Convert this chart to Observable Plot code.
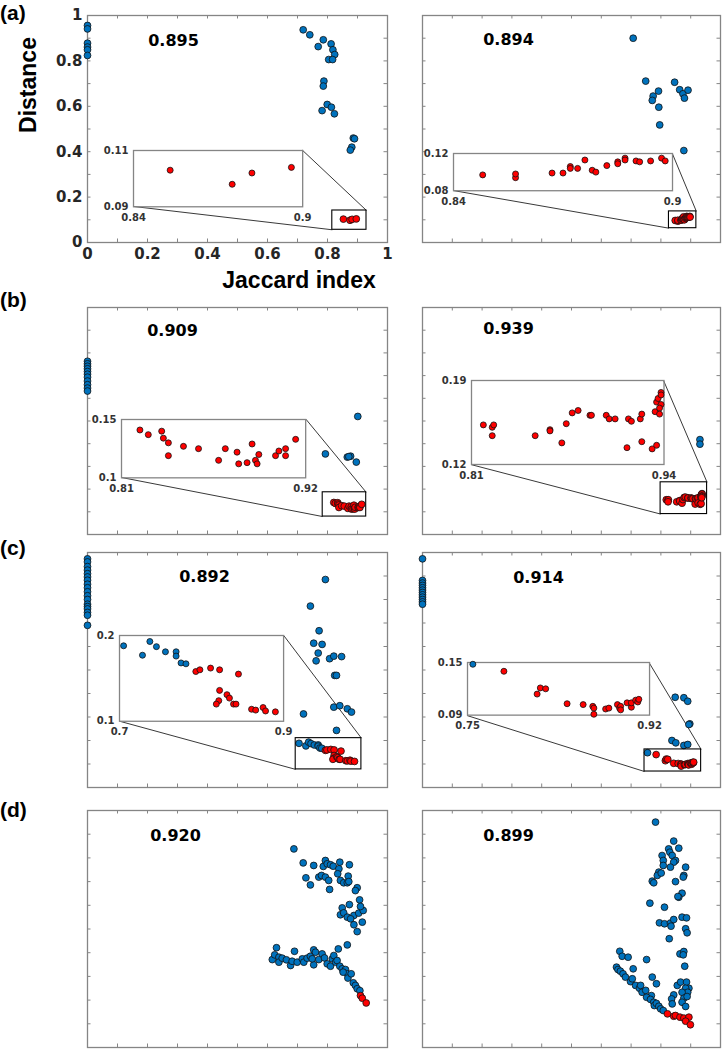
<!DOCTYPE html>
<html><head><meta charset="utf-8">
<script src="https://cdn.jsdelivr.net/npm/d3@7"></script>
<script src="https://cdn.jsdelivr.net/npm/@observablehq/plot@0.6"></script>
<style>
html,body{margin:0;padding:0;background:#fff;}
#fig{position:relative;width:722px;height:1050px;overflow:hidden;background:#fff;}
#fig svg{position:absolute;overflow:visible;}
.lab{position:absolute;font-family:"Liberation Sans",Arial,sans-serif;font-weight:bold;color:#000;white-space:nowrap;line-height:1;}
</style></head><body><div id="fig"></div>
<script>
// ---------------- DATA ----------------
const panelLetters = ["(a)", "(b)", "(c)", "(d)"];
const scores = ["0.895", "0.894", "0.909", "0.939", "0.892", "0.914", "0.920", "0.899"];
const axisTicks = [0, 0.1, 0.2, 0.3, 0.4, 0.5, 0.6, 0.7, 0.8, 0.9, 1];
const axisLabelTicks = [0, 0.2, 0.4, 0.6, 0.8, 1];
const xTitle = "Jaccard index";
const yTitle = "Distance";

// (a) left
const aLeftBlue = [[0,0.956],[0,0.941],[0,0.878],[0,0.861],[0,0.849],[0,0.824],
  [0.719,0.937],[0.741,0.915],[0.786,0.893],[0.769,0.863],[0.812,0.875],[0.818,0.849],[0.824,0.828],
  [0.804,0.806],[0.817,0.806],[0.788,0.711],[0.786,0.689],[0.799,0.608],[0.782,0.581],[0.813,0.596],
  [0.823,0.567],[0.886,0.46],[0.89,0.457],[0.881,0.42],[0.876,0.407]];
const aLeftRed = [[0.853,0.103],[0.875,0.098],[0.882,0.102],[0.896,0.104]];
const aLeftInsetX = [0.84, 0.9], aLeftInsetY = [0.09, 0.11];

// (a) right
const aRightBlue = [[0.707,0.9],[0.749,0.711],[0.792,0.667],[0.774,0.645],[0.771,0.626],[0.793,0.596],
  [0.796,0.518],[0.846,0.706],[0.863,0.673],[0.874,0.655],[0.879,0.636],[0.891,0.671],[0.877,0.405]];
const aRightRed = [[0.848,0.097],[0.857,0.094],[0.857,0.098],[0.867,0.099],[0.870,0.099],[0.872,0.106],
  [0.872,0.104],[0.874,0.104],[0.876,0.113],[0.878,0.102],[0.879,0.100],[0.882,0.107],[0.885,0.111],
  [0.885,0.109],[0.887,0.115],[0.887,0.113],[0.890,0.112],[0.891,0.111],[0.894,0.112],[0.897,0.115],[0.898,0.112]];
const aRightInsetX = [0.84, 0.9], aRightInsetY = [0.08, 0.12];

// (b) left
const bLeftBlue = [[0,0.763],[0,0.752],[0,0.741],[0,0.73],[0,0.718],[0,0.706],[0,0.693],[0,0.676],[0,0.66],
  [0,0.645],[0,0.632],[0.793,0.355],[0.866,0.341],[0.877,0.345],[0.871,0.343],[0.896,0.319],[0.901,0.52]];
const bLeftRed = [[0.821,0.141],[0.826,0.137],[0.834,0.140],[0.835,0.134],[0.838,0.130],[0.838,0.119],
  [0.847,0.127],[0.856,0.125],[0.868,0.115],[0.872,0.125],[0.879,0.122],[0.880,0.112],[0.885,0.113],
  [0.888,0.129],[0.890,0.115],[0.891,0.112],[0.892,0.120],[0.902,0.119],[0.904,0.123],[0.908,0.125],
  [0.908,0.119],[0.914,0.133]];
const bLeftInsetX = [0.81, 0.92], bLeftInsetY = [0.1, 0.15];

// (b) right
const bRightBlue = [[0.931,0.418],[0.931,0.398]];
const bRightRed = [[0.818,0.153],[0.824,0.151],[0.825,0.153],[0.824,0.144],[0.853,0.144],[0.863,0.149],
  [0.863,0.148],[0.871,0.138],[0.874,0.154],[0.878,0.163],[0.882,0.165],[0.890,0.161],[0.891,0.161],
  [0.901,0.161],[0.903,0.158],[0.907,0.158],[0.915,0.134],[0.916,0.158],[0.918,0.156],[0.924,0.158],
  [0.925,0.162],[0.925,0.139],[0.932,0.133],[0.935,0.136],[0.934,0.164],[0.935,0.172],[0.936,0.175],
  [0.938,0.180],[0.938,0.178],[0.938,0.170],[0.937,0.167],[0.937,0.162]];
const bRightInsetX = [0.81, 0.94], bRightInsetY = [0.12, 0.19];

// (c) left
const cLeftBlue = [[0,0.973],[0,0.96],[0,0.94],[0,0.925],[0,0.91],[0,0.896],[0,0.882],[0,0.865],[0,0.85],
  [0,0.833],[0,0.816],[0,0.8],[0,0.78],[0,0.77],[0,0.76],[0,0.745],[0,0.733],[0,0.69],
  [0.793,0.885],[0.743,0.772],[0.772,0.667],[0.754,0.614],[0.782,0.609],[0.769,0.572],[0.762,0.539],
  [0.807,0.548],[0.821,0.559],[0.847,0.557],[0.824,0.477],[0.83,0.477],[0.821,0.342],[0.841,0.348],
  [0.866,0.335],[0.88,0.321],[0.72,0.313],[0.83,0.243],
  [0.705,0.188],[0.728,0.177],[0.737,0.193],[0.745,0.187],[0.756,0.181],[0.769,0.181],[0.769,0.176],
  [0.775,0.168],[0.781,0.167]];
const cLeftRed = [[0.793,0.158],[0.798,0.160],[0.811,0.162],[0.822,0.160],[0.845,0.155],[0.822,0.136],
  [0.821,0.124],[0.818,0.120],[0.831,0.131],[0.834,0.127],[0.839,0.120],[0.842,0.120],[0.861,0.114],
  [0.866,0.113],[0.875,0.116],[0.878,0.112],[0.890,0.111]];
const cLeftInsetX = [0.7, 0.9], cLeftInsetY = [0.1, 0.2];

// (c) right
const cRightBlue = [[0,0.973],[0,0.881],[0,0.87],[0,0.86],[0,0.85],[0,0.84],[0,0.83],[0,0.82],[0,0.81],
  [0,0.8],[0,0.79],[0,0.78],
  [0.848,0.384],[0.877,0.382],[0.89,0.367],[0.897,0.271],[0.894,0.268],[0.837,0.2],[0.85,0.19],
  [0.877,0.179],[0.89,0.183],[0.755,0.148]];
const cRightRed = [[0.784,0.140],[0.815,0.114],[0.818,0.121],[0.823,0.120],[0.843,0.103],[0.858,0.102],
  [0.867,0.100],[0.868,0.098],[0.868,0.091],[0.879,0.097],[0.882,0.098],[0.890,0.102],[0.892,0.098],
  [0.893,0.100],[0.893,0.096],[0.899,0.104],[0.903,0.099],[0.903,0.104],[0.907,0.107],[0.909,0.105],[0.910,0.108]];
const cRightInsetX = [0.75, 0.92], cRightInsetY = [0.09, 0.15];

// (d) left
const dLeftBlue = [[0.688,0.838],[0.719,0.779],[0.754,0.768],[0.728,0.716],[0.743,0.686],[0.771,0.719],
  [0.78,0.726],[0.786,0.764],[0.793,0.789],[0.799,0.775],[0.81,0.771],[0.819,0.765],[0.841,0.782],
  [0.873,0.771],[0.838,0.754],[0.834,0.733],[0.793,0.719],[0.804,0.705],[0.807,0.667],[0.869,0.723],
  [0.843,0.705],[0.854,0.695],[0.866,0.695],[0.871,0.7],[0.899,0.674],[0.893,0.662],[0.907,0.623],
  [0.873,0.603],[0.849,0.589],[0.843,0.56],[0.854,0.568],[0.866,0.55],[0.888,0.557],[0.904,0.567],
  [0.919,0.578],[0.91,0.595],[0.916,0.529],[0.888,0.518],[0.899,0.489],[0.877,0.543],
  [0.63,0.421],[0.616,0.371],[0.624,0.391],[0.638,0.381],[0.638,0.36],[0.649,0.377],[0.663,0.37],
  [0.677,0.346],[0.682,0.364],[0.69,0.406],[0.699,0.36],[0.716,0.374],[0.721,0.36],[0.732,0.377],
  [0.743,0.385],[0.754,0.412],[0.76,0.402],[0.754,0.349],[0.749,0.374],[0.771,0.371],[0.782,0.395],
  [0.79,0.378],[0.799,0.353],[0.81,0.343],[0.816,0.374],[0.821,0.388],[0.836,0.416],[0.866,0.433],
  [0.827,0.36],[0.832,0.367],[0.841,0.343],[0.849,0.332],[0.86,0.329],[0.866,0.311],[0.852,0.318],
  [0.868,0.293],[0.879,0.311],[0.886,0.273],[0.893,0.262],[0.899,0.248],[0.908,0.24]];
const dLeftRed = [[0.91,0.219],[0.916,0.208],[0.929,0.188]];

// (d) right
const dRightBlue = [[0.782,0.951],[0.843,0.871],[0.826,0.838],[0.83,0.824],[0.86,0.841],[0.804,0.81],
  [0.808,0.789],[0.838,0.81],[0.849,0.789],[0.843,0.782],[0.808,0.768],[0.832,0.761],[0.883,0.761],
  [0.793,0.74],[0.788,0.726],[0.801,0.736],[0.877,0.726],[0.875,0.719],[0.771,0.702],[0.776,0.695],
  [0.849,0.7],[0.871,0.651],[0.86,0.634],[0.857,0.637],[0.763,0.609],[0.812,0.592],[0.795,0.526],
  [0.812,0.522],[0.832,0.525],[0.843,0.54],[0.834,0.512],[0.871,0.55],[0.886,0.547],[0.883,0.501],
  [0.888,0.484],[0.828,0.459],[0.864,0.395],[0.877,0.405],[0.875,0.391],[0.88,0.343],
  [0.662,0.406],[0.67,0.385],[0.69,0.381],[0.752,0.371],[0.651,0.339],[0.656,0.329],[0.664,0.322],
  [0.673,0.311],[0.707,0.332],[0.681,0.297],[0.698,0.278],[0.704,0.29],[0.715,0.262],[0.728,0.25],
  [0.732,0.262],[0.737,0.233],[0.749,0.241],[0.771,0.297],[0.785,0.269],[0.768,0.219],[0.752,0.212],
  [0.765,0.203],[0.776,0.191],[0.778,0.177],[0.785,0.186],[0.793,0.174],[0.799,0.163],[0.808,0.156],
  [0.855,0.262],[0.866,0.276],[0.886,0.276],[0.894,0.25],[0.883,0.25],[0.89,0.233],[0.871,0.233],
  [0.843,0.222],[0.836,0.205],[0.838,0.184],[0.877,0.208],[0.871,0.191],[0.883,0.173],[0.888,0.215]];
const dRightRed = [[0.822,0.142],[0.843,0.132],[0.849,0.135],[0.864,0.128],[0.877,0.124],[0.894,0.128],
  [0.883,0.111],[0.899,0.096]];

// ---------------- LAYOUT ----------------
const rowBox = [{top: 15, h: 227}, {top: 307, h: 227}, {top: 552, h: 235}, {top: 810, h: 237}];
const colBox = [{left: 87, w: 300}, {left: 422, w: 298}];
const scorePos = [[86,25],[86,24],[85,23],[86,21],[117,24],[116,25],[88,25],[86,25]];
// inset placement and zoom-box, in the main panel's own axis units
const insetLayout = [
  {box: [0.152, 0.716, 0.159, 0.407], zoom: [0.816, 0.93, 0.056, 0.141]},
  {box: [0.103, 0.838, 0.229, 0.393], zoom: [0.827, 0.919, 0.063, 0.137]},
  {box: [0.114, 0.728, 0.251, 0.508], zoom: [0.784, 0.929, 0.079, 0.186]},
  {box: [0.163, 0.809, 0.308, 0.678], zoom: [0.799, 0.955, 0.09, 0.23]},
  {box: [0.107, 0.654, 0.282, 0.647], zoom: [0.694, 0.913, 0.077, 0.21]},
  {box: [0.15, 0.761, 0.306, 0.53], zoom: [0.745, 0.935, 0.068, 0.162]},
  null, null
];

const panels = [
  {blue: aLeftBlue, red: aLeftRed, ix: aLeftInsetX, iy: aLeftInsetY},
  {blue: aRightBlue, red: aRightRed, ix: aRightInsetX, iy: aRightInsetY},
  {blue: bLeftBlue, red: bLeftRed, ix: bLeftInsetX, iy: bLeftInsetY},
  {blue: bRightBlue, red: bRightRed, ix: bRightInsetX, iy: bRightInsetY},
  {blue: cLeftBlue, red: cLeftRed, ix: cLeftInsetX, iy: cLeftInsetY},
  {blue: cRightBlue, red: cRightRed, ix: cRightInsetX, iy: cRightInsetY},
  {blue: dLeftBlue, red: dLeftRed},
  {blue: dRightBlue, red: dRightRed}
];

const BLUE = "#0072BD", RED = "#FF0000", FRAME = "#858585", TL = 3.5;
const fig = document.getElementById("fig");

function place(el, left, top) {
  el.style.left = left + "px";
  el.style.top = top + "px";
  fig.appendChild(el);
}

panels.forEach((P, i) => {
  const row = rowBox[Math.floor(i / 2)], col = colBox[i % 2];
  const W = col.w, H = row.h;
  const showLabels = i === 0;
  const mL = 44, mR = 10, mT = 10, mB = 34;
  const lay = insetLayout[i];
  const marks = [
    Plot.frame({stroke: FRAME, strokeWidth: 1.3}),
    Plot.tickX(axisTicks, {x: d => d, stroke: FRAME, strokeWidth: 1, insetTop: H - TL}),
    Plot.tickX(axisTicks, {x: d => d, stroke: FRAME, strokeWidth: 1, insetBottom: H - TL}),
    Plot.tickY(axisTicks, {y: d => d, stroke: FRAME, strokeWidth: 1, insetRight: W - TL}),
    Plot.tickY(axisTicks, {y: d => d, stroke: FRAME, strokeWidth: 1, insetLeft: W - TL})
  ];
  if (lay) {
    const links = [
      {x1: lay.box[0], y1: lay.box[2], x2: lay.zoom[0], y2: lay.zoom[2]},
      {x1: lay.box[1], y1: lay.box[3], x2: lay.zoom[1], y2: lay.zoom[3]}
    ];
    marks.push(Plot.link(links, {x1: "x1", y1: "y1", x2: "x2", y2: "y2", stroke: "#222", strokeWidth: 0.9}));
  }
  marks.push(
    Plot.dot(P.blue, {x: d => d[0], y: d => d[1], r: 3.4, fill: BLUE, stroke: "#111", strokeWidth: 0.8}),
    Plot.dot(P.red, {x: d => d[0], y: d => d[1], r: 3.4, fill: RED, stroke: "#111", strokeWidth: 0.8})
  );
  if (lay) {
    marks.push(Plot.rect([lay.zoom], {x1: d => d[0], x2: d => d[1], y1: d => d[2], y2: d => d[3],
      fill: "none", stroke: "#000", strokeWidth: 1.1}));
  }
  marks.push(Plot.text([scores[i]], {frameAnchor: "top-left", dx: scorePos[i][0], dy: scorePos[i][1],
    text: d => d, textAnchor: "middle", lineAnchor: "middle", fontSize: 16, fontWeight: "bold", fill: "#000"}));
  if (showLabels) {
    marks.push(
      Plot.axisX({ticks: axisLabelTicks, tickSize: 0, tickPadding: 6, tickFormat: d => String(d), label: null}),
      Plot.axisY({ticks: axisLabelTicks, tickSize: 0, tickPadding: 5, tickFormat: d => String(d), label: null})
    );
  }
  const plot = Plot.plot({
    width: W + mL + mR, height: H + mT + mB,
    marginLeft: mL, marginRight: mR, marginTop: mT, marginBottom: mB,
    x: {domain: [0, 1], axis: showLabels ? undefined : null},
    y: {domain: [0, 1], axis: showLabels ? undefined : null},
    style: {background: "transparent", fontFamily: "'DejaVu Sans', sans-serif", fontSize: "15px",
      fontWeight: "bold", color: "#262626", overflow: "visible"},
    marks
  });
  const svgLeft = col.left - mL, svgTop = row.top - mT;
  place(plot, svgLeft, svgTop);

  if (lay) {
    const sx = plot.scale("x"), sy = plot.scale("y");
    const xs = d3.scaleLinear(sx.domain, sx.range), ys = d3.scaleLinear(sy.domain, sy.range);
    const px0 = xs(lay.box[0]), px1 = xs(lay.box[1]);
    const py0 = ys(lay.box[3]), py1 = ys(lay.box[2]);
    const iW = px1 - px0, iH = py1 - py0;
    const im = {l: 34, r: 12, t: 6, b: 22};
    const inside = d => d[0] >= P.ix[0] - 1e-4 && d[0] <= P.ix[1] + 1e-4 && d[1] >= P.iy[0] - 1e-4 && d[1] <= P.iy[1] + 1e-4;
    const inset = Plot.plot({
      width: iW + im.l + im.r, height: iH + im.t + im.b,
      marginLeft: im.l, marginRight: im.r, marginTop: im.t, marginBottom: im.b,
      x: {domain: P.ix}, y: {domain: P.iy},
      style: {background: "transparent", fontFamily: "'DejaVu Sans', sans-serif", fontSize: "10px",
        fontWeight: "bold", color: "#333", overflow: "visible"},
      marks: [
        Plot.frame({stroke: FRAME, strokeWidth: 1.3}),
        Plot.dot(P.blue.filter(inside), {x: d => d[0], y: d => d[1], r: 3, fill: BLUE, stroke: "#111", strokeWidth: 0.8}),
        Plot.dot(P.red.filter(inside), {x: d => d[0], y: d => d[1], r: 3, fill: RED, stroke: "#111", strokeWidth: 0.8}),
        Plot.axisX({ticks: P.ix, tickSize: 0, tickPadding: 7, tickFormat: d => String(d), label: null}),
        Plot.axisY({ticks: P.iy, tickSize: 0, tickPadding: 5, tickFormat: d => String(d), label: null})
      ]
    });
    place(inset, svgLeft + px0 - im.l, svgTop + py0 - im.t);
  }
});

// ---------------- TEXT LABELS ----------------
function label(text, x, baseline, size, center) {
  const d = document.createElement("div");
  d.className = "lab";
  d.textContent = text;
  d.style.fontSize = size + "px";
  if (center) d.style.transform = "translateX(-50%)";
  place(d, x, baseline - 0.85 * size);
  return d;
}
const letterBaselines = [20, 307, 555, 817];
panelLetters.forEach((t, k) => label(t, 0, letterBaselines[k], 21, false));
label(xTitle, 299, 289, 23, true);
const yl = document.createElement("div");
yl.className = "lab";
yl.textContent = yTitle;
yl.style.fontSize = "23px";
yl.style.transform = "translate(-50%,-50%) rotate(-90deg)";
place(yl, 28, 85);
</script></body></html>
